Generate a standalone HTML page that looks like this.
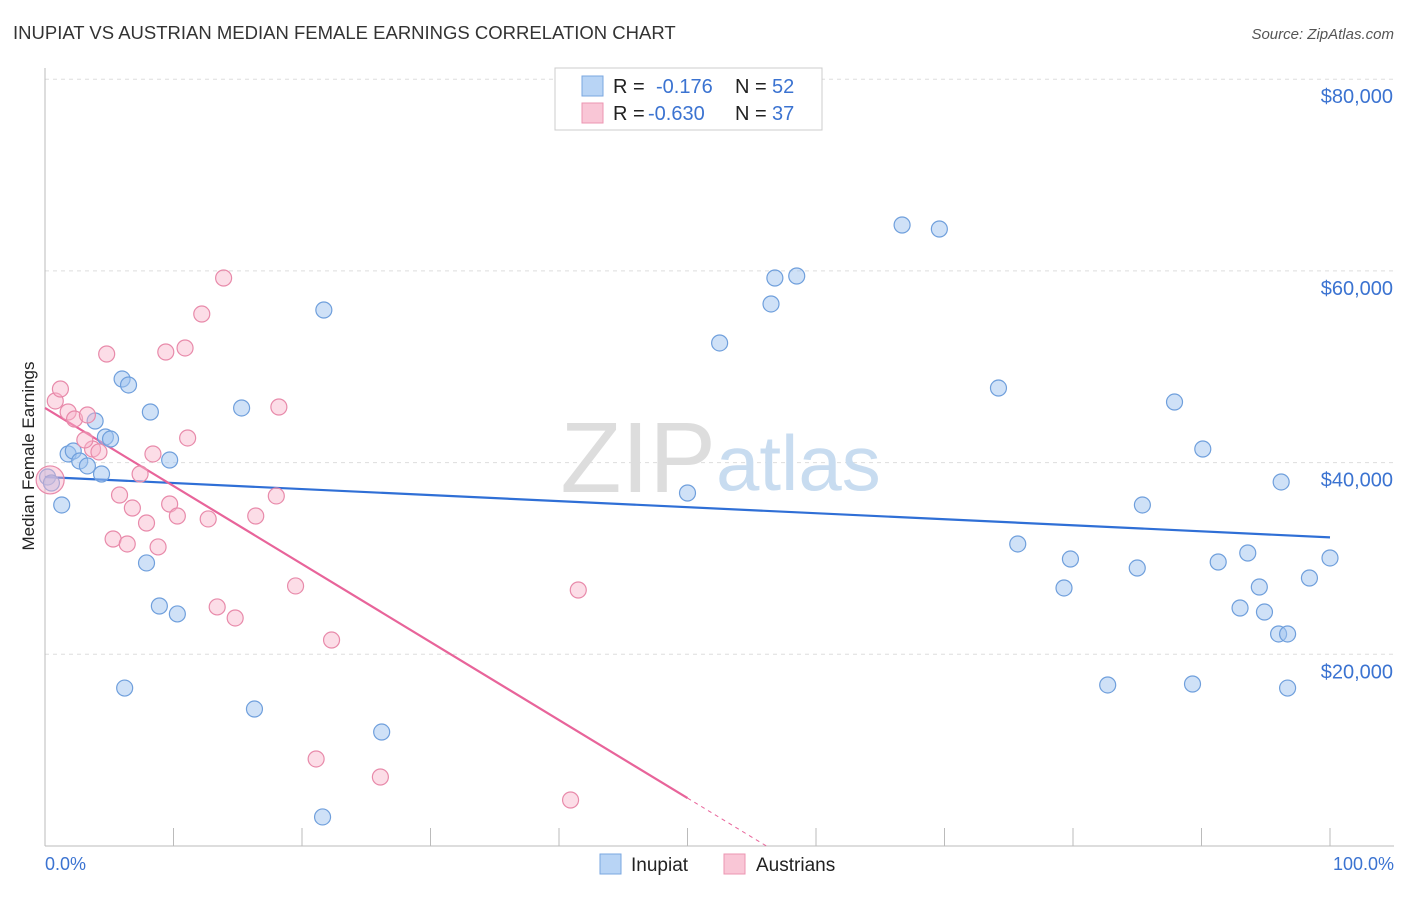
<!DOCTYPE html>
<html><head><meta charset="utf-8"><style>
body{margin:0;background:#fff;font-family:"Liberation Sans",sans-serif;}
svg text{font-family:"Liberation Sans",sans-serif;}
</style></head><body>
<svg id="chart" width="1406" height="892">
<text x="13" y="39" font-size="18.5" fill="#333">INUPIAT VS AUSTRIAN MEDIAN FEMALE EARNINGS CORRELATION CHART</text>
<text x="1394" y="39" font-size="15" fill="#555" font-style="italic" text-anchor="end">Source: ZipAtlas.com</text>
<text x="34" y="456" font-size="17" fill="#222" text-anchor="middle" transform="rotate(-90 34 456)">Median Female Earnings</text>
<g id="grid"></g>
<text x="716" y="492" font-size="100" fill="#ddd" text-anchor="end" font-family="Liberation Serif">ZIP</text>
<text x="716" y="490" font-size="78" fill="#c8dcf0">atlas</text>
<g id="lines"></g>
<g id="points"></g>
<g id="legend">
<rect x="555" y="68" width="267" height="62" fill="#fff" stroke="#ccc"/>
<rect x="582" y="76" width="21" height="20" fill="#b8d4f5" stroke="#7aa7e0"/>
<rect x="582" y="103" width="21" height="20" fill="#f9c6d6" stroke="#ec95b2"/>
<text x="613" y="93" font-size="20" fill="#222">R = </text><text x="656" y="93" font-size="20" fill="#3b73d1">-0.176</text>
<text x="735" y="93" font-size="20" fill="#222">N = </text><text x="772" y="93" font-size="20" fill="#3b73d1">52</text>
<text x="613" y="120" font-size="20" fill="#222">R = </text><text x="648" y="120" font-size="20" fill="#3b73d1">-0.630</text>
<text x="735" y="120" font-size="20" fill="#222">N = </text><text x="772" y="120" font-size="20" fill="#3b73d1">37</text>
</g>
<text x="45" y="870" font-size="18" fill="#3b73d1">0.0%</text>
<text x="1394" y="870" font-size="18" fill="#3b73d1" text-anchor="end">100.0%</text>
<g><rect x="600" y="854" width="21" height="20" fill="#b8d4f5" stroke="#7aa7e0"/><text x="631" y="871" font-size="19" fill="#222">Inupiat</text></g>
<g><rect x="724" y="854" width="21" height="20" fill="#f9c6d6" stroke="#ec95b2"/><text x="756" y="871" font-size="19" fill="#222">Austrians</text></g>
</svg>
<script>
const yTicks=[20000,40000,60000,80000];
const yTickLabels=["$20,000","$40,000","$60,000","$80,000"];
const xTicks=[0,10,20,30,40,50,60,70,80,90,100];
const inupiatX=[0.2,0.5,1.3,1.8,2.2,2.7,3.3,3.9,4.4,4.7,5.1,6.0,6.5,8.2,7.9,8.9,9.7,10.3,6.2,15.3,16.3,21.7,26.2,21.6,50.0,52.5,56.5,56.8,58.5,66.7,69.6,74.2,75.7,79.3,79.8,82.7,85.0,85.4,87.9,89.3,90.1,91.3,93.0,93.6,94.5,94.9,96.0,96.7,96.2,96.7,98.4,100];
const inupiatY=[38500,37870,35580,40900,41210,40170,39650,44340,38810,42670,42460,48720,48100,45280,29530,25040,40270,24210,16480,45700,14290,55920,11890,3030,36830,52480,56550,59260,59470,64790,64370,47780,31510,26920,29940,16800,29000,35580,46320,16900,41420,29630,24830,30570,27020,24410,22120,22120,37980,16480,27960,30050];
const austrianX=[0.4,0.8,1.2,1.8,2.3,3.3,3.7,4.2,4.8,5.3,5.8,6.4,6.8,7.4,7.9,8.4,8.8,9.4,9.7,10.3,10.9,11.1,12.2,12.7,13.4,13.9,14.8,16.4,18.0,18.2,19.5,22.3,21.1,26.1,40.9,41.5,3.1];
const austrianY=[38190,46430,47680,45280,44550,44970,41420,41110,51330,32030,36620,31510,35260,38810,33700,40900,31200,51540,35680,34430,51960,42570,55500,34120,24940,59260,23790,34430,36520,45800,27130,21490,9080,7200,4800,26710,42360];
const inupiatTrend=[38500,32200];
const austrianTrend=[45700,-35700];
const NS='http://www.w3.org/2000/svg';
const X=p=>45+p*12.85, Y=v=>846-v/104.33;
function mk(t,a,parent){const e=document.createElementNS(NS,t);for(const k in a)e.setAttribute(k,a[k]);document.getElementById(parent).appendChild(e);return e;}
yTicks.forEach((v,i)=>{
 const l=mk('line',{x1:45,x2:1394,y1:Y(v),y2:Y(v),stroke:'#ddd','stroke-dasharray':'4,4'},'grid');
 
 
 const t=mk('text',{x:1393,y:Y(v)+24,'font-size':20,fill:'#3b73d1','text-anchor':'end'},'grid');t.textContent=yTickLabels[i];
 
 
});
const ax=mk('line',{x1:45,x2:45,y1:68,y2:846,stroke:'#bbb'},'grid');


const bx=mk('line',{x1:45,x2:1394,y1:846,y2:846,stroke:'#bbb'},'grid');


xTicks.forEach(p=>{const t=mk('line',{x1:X(p),x2:X(p),y1:828,y2:846,stroke:'#bbb'},'grid');
 
 });
function pts(xs,ys,fill,stroke,name){xs.forEach((x,i)=>{
 const c=mk('circle',{cx:X(x),cy:Y(ys[i]),r:(name==='austrian-point'&&i===0)?14:8,fill:fill,stroke:stroke,'stroke-width':1.2},'points');
 
 });}
pts(inupiatX,inupiatY,'rgba(160,196,240,0.5)','#6f9fdc','inupiat-point');
pts(austrianX,austrianY,'rgba(248,180,202,0.45)','#e88aaa','austrian-point');
const bl=mk('line',{x1:X(0),y1:Y(inupiatTrend[0]),x2:X(100),y2:Y(inupiatTrend[1]),stroke:'#2f6fd6','stroke-width':2.2},'lines');


const slope=(austrianTrend[1]-austrianTrend[0])/100;
const pa=v=>austrianTrend[0]+slope*v;
const xz=-austrianTrend[0]/slope;
const pl=mk('line',{x1:X(0),y1:Y(pa(0)),x2:X(50),y2:Y(pa(50)),stroke:'#e8649a','stroke-width':2.2},'lines');


const pd=mk('line',{x1:X(50),y1:Y(pa(50)),x2:X(xz),y2:Y(0),stroke:'#e8649a','stroke-width':1,'stroke-dasharray':'4,4'},'lines');


</script>
</body></html>
